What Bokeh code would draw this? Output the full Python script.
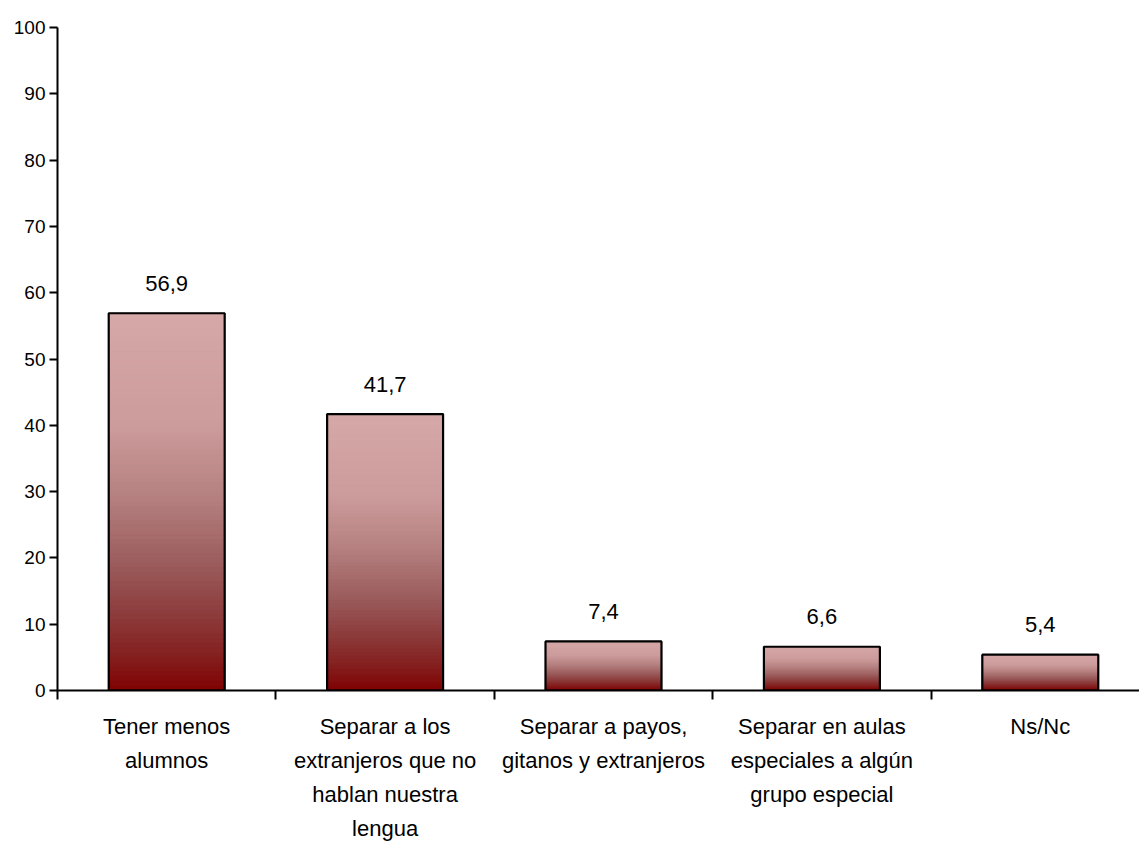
from bokeh.plotting import figure
from bokeh.models import Range1d, FixedTicker, ColumnDataSource
from bokeh.core.properties import value
from bokeh.embed import file_html
from bokeh.resources import INLINE

# ---- data ----
categories = [
    "Tener menos\nalumnos",
    "Separar a los\nextranjeros que no\nhablan nuestra\nlengua",
    "Separar a payos,\ngitanos y extranjeros",
    "Separar en aulas\nespeciales a algún\ngrupo especial",
    "Ns/Nc",
]
values = [56.9, 41.7, 7.4, 6.6, 5.4]
value_labels = ["56,9", "41,7", "7,4", "6,6", "5,4"]
y_ticks = list(range(0, 101, 10))

# ---- style ----
FONT = "Liberation Sans"
W, H = 1139, 843
LEFT, TOP, BOTTOM = 57, 27, 152
CAT_PX = 218.4
BAR_W = 0.531
N_SLICES = 80
stops = [
    (0.00, (214, 168, 168)),
    (0.30, (204, 155, 155)),
    (0.50, (180, 126, 126)),
    (0.65, (157, 95, 95)),
    (0.80, (140, 60, 60)),
    (0.92, (132, 28, 28)),
    (1.00, (128, 2, 2)),
]


def grad(t):  # t=0 top, 1 bottom
    for (t0, c0), (t1, c1) in zip(stops[:-1], stops[1:]):
        if t0 <= t <= t1:
            f = (t - t0) / (t1 - t0) if t1 > t0 else 0
            c = [round(a + (b - a) * f) for a, b in zip(c0, c1)]
            return "#%02x%02x%02x" % tuple(c)
    return "#800000"


frame_w = W - LEFT
x_end = frame_w / CAT_PX
n = len(values)
centers = [i + 0.5 for i in range(n)]

p = figure(width=W, height=H, output_backend="svg", toolbar_location=None,
           x_range=Range1d(0, x_end), y_range=Range1d(0, 100),
           min_border_left=LEFT, min_border_top=TOP, min_border_bottom=BOTTOM,
           min_border_right=0)
p.outline_line_color = None
p.xgrid.visible = False
p.ygrid.visible = False
p.background_fill_color = "white"
p.border_fill_color = "white"

# gradient bars built from slices
ql, qr, qb, qt, qc = [], [], [], [], []
for c, v in zip(centers, values):
    for k in range(N_SLICES):
        t = (k + 0.5) / N_SLICES
        top = v * (1 - k / N_SLICES)
        bot = v * (1 - (k + 1) / N_SLICES)
        ql.append(c - BAR_W / 2)
        qr.append(c + BAR_W / 2)
        qt.append(top)
        qb.append(bot)
        qc.append(grad(t))
p.quad(left=ql, right=qr, bottom=qb, top=qt, fill_color=qc, line_color=qc, line_width=1.3)
p.vbar(x=centers, top=values, width=BAR_W, bottom=0, fill_color=None,
       line_color="black", line_width=2.2)

src = ColumnDataSource(dict(x=centers, y=values, t=value_labels))
p.text(x="x", y="y", text="t", source=src, text_align="center",
       text_baseline="alphabetic", y_offset=-30, text_font=value(FONT),
       text_font_size="22px", text_color="black")

# y axis
ya = p.yaxis[0]
ya.ticker = FixedTicker(ticks=y_ticks)
ya.major_tick_out = 8
ya.major_tick_in = 0
ya.minor_tick_out = 0
ya.minor_tick_in = 0
ya.axis_line_width = 2
ya.major_tick_line_width = 2
ya.axis_line_color = "black"
ya.major_tick_line_color = "black"
ya.major_label_text_font = FONT
ya.major_label_text_font_size = "19px"
ya.major_label_text_color = "black"
ya.major_label_standoff = 4

# x axis
xa = p.xaxis[0]
xa.ticker = FixedTicker(ticks=centers, minor_ticks=list(range(n + 1)))
xa.major_label_overrides = {c: lab for c, lab in zip(centers, categories)}
xa.major_tick_out = 0
xa.major_tick_in = 0
xa.minor_tick_out = 9
xa.minor_tick_in = 0
xa.minor_tick_line_width = 2
xa.minor_tick_line_color = "black"
xa.axis_line_width = 2
xa.axis_line_color = "black"
xa.major_label_text_font = FONT
xa.major_label_text_font_size = "22px"
xa.major_label_text_color = "black"
xa.major_label_text_line_height = 1.36
xa.major_label_standoff = 14

open("out.html", "w").write(file_html(p, INLINE))
